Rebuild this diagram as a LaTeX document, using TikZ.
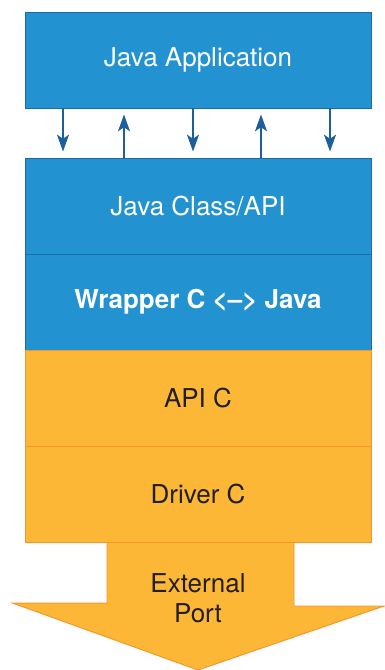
\documentclass[tikz,border=0pt]{standalone}
\usepackage{fontspec}
\setmainfont{TeX Gyre Heros}
\usetikzlibrary{arrows.meta,backgrounds}
\definecolor{javablue}{HTML}{2292D1}
\definecolor{javaedge}{HTML}{1C6AA6}
\definecolor{arrowblue}{HTML}{1D5E9C}
\definecolor{cfill}{HTML}{FDB737}
\definecolor{cedge}{HTML}{F5962A}
\definecolor{ctext}{HTML}{231F20}
\tikzset{
  layer/.style={rectangle, minimum width=8.65cm, minimum height=2.4cm,
    inner sep=0pt, line width=0.7pt, font=\fontsize{18.5}{22}\selectfont},
  javabox/.style={layer, fill=javablue, draw=javaedge, text=white},
  cbox/.style={layer, fill=cfill, draw=cedge, text=ctext},
  call/.style={draw=arrowblue, line width=1pt,
    -{Stealth[length=0.42cm,width=0.3cm,inset=0.1cm]}, shorten >=0.15cm},
}
\begin{document}
\begin{tikzpicture}
  \useasboundingbox (0,0) rectangle (9.6,-16.75);
  \node[javabox] (app) at (4.95,-1.5) {Java Application};
  \node[javabox] (cls) at (4.95,-5.15) {Java Class/API};
  \node[javabox, font=\fontsize{18.5}{22}\selectfont\bfseries] (wrap) at (4.95,-7.55) {Wrapper C <–> Java};
  \node[cbox] (apic) at (4.95,-9.95) {API C};
  \node[cbox] (drv) at (4.95,-12.35) {Driver C};
  \foreach \i/\x in {1/1.575,2/3.1,3/4.825,4/6.525,5/8.25} {
    \coordinate (u\i) at (app.south -| \x,0);
    \coordinate (l\i) at (cls.north -| \x,0);
  }
  \draw[call] (u1) -- (l1);
  \draw[call] (l2) -- (u2);
  \draw[call] (u3) -- (l3);
  \draw[call] (l4) -- (u4);
  \draw[call] (u5) -- (l5);
  \begin{scope}[on background layer]
    \filldraw[fill=cfill, draw=cedge, line width=0.7pt]
      (drv.south -| 2.675,0) -- (2.675,-15.08) -- (0.325,-15.08)
      -- (4.95,-16.75) -- (9.6,-15.15) -- (7.35,-15.15)
      -- (drv.south -| 7.35,0) -- cycle;
  \end{scope}
  \node[align=center, text=ctext, font=\fontsize{18.5}{21}\selectfont] (port) at (4.95,-14.95) {External\\Port};
\end{tikzpicture}
\end{document}
